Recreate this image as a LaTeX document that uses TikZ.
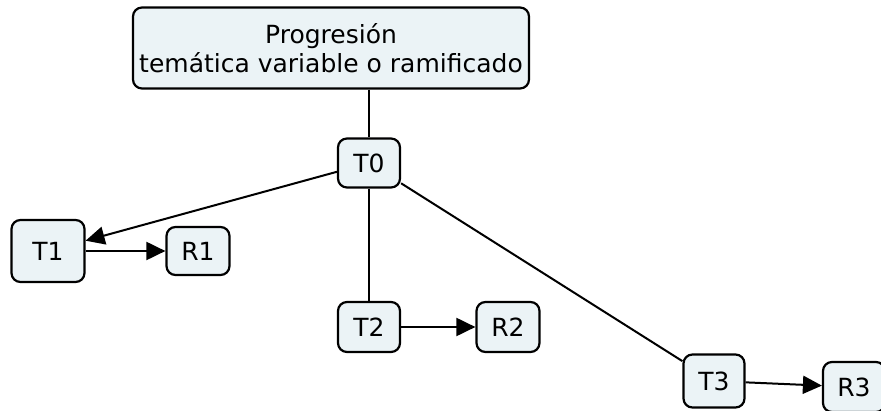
\documentclass[tikz,border=0pt]{standalone}
\usepackage{fontspec}
\setmainfont{DejaVu Sans}
\usetikzlibrary{arrows.meta}
\definecolor{boxfill}{RGB}{235,243,246}
\tikzset{
  topic/.style={draw=black, fill=boxfill, line width=2.2pt, rounded corners=9pt, align=center, inner sep=0pt},
  link/.style={line width=2pt},
  arr/.style={line width=2pt, -{Triangle[length=19pt,width=18pt]}}
}
\begin{document}
\begin{tikzpicture}[x=1pt, y=-1pt, font=\fontsize{25}{29}\selectfont, line join=round]
	\useasboundingbox (0,0) rectangle (881,411);
	\node[topic, minimum width=396pt, minimum height=81pt] (titulo) at (331,48) {Progresión\\temática variable o ramificado};
	\node[topic, minimum width=62pt, minimum height=49pt] (T0) at (369,163) {T0};
	\node[topic, minimum width=73pt, minimum height=62pt] (T1) at (48,251) {T1};
	\node[topic, minimum width=63pt, minimum height=48pt] (R1) at (198,251) {R1};
	\node[topic, minimum width=62pt, minimum height=50pt] (T2) at (369,327) {T2};
	\node[topic, minimum width=63pt, minimum height=50pt] (R2) at (508,327) {R2};
	\node[topic, minimum width=61pt, minimum height=53pt] (T3) at (714,381) {T3};
	\node[topic, minimum width=62pt, minimum height=50pt] (R3) at (854,387) {R3};

	\draw[link] (titulo.south -| T0) -- (T0);
	\draw[arr] (T0) -- (T1);
	\draw[link] (T0) -- (T2);
	\draw[link] (T0) -- (T3);
	\draw[arr] (T1) -- (R1);
	\draw[arr] (T2) -- (R2);
	\draw[arr] (T3) -- (R3);
\end{tikzpicture}
\end{document}
